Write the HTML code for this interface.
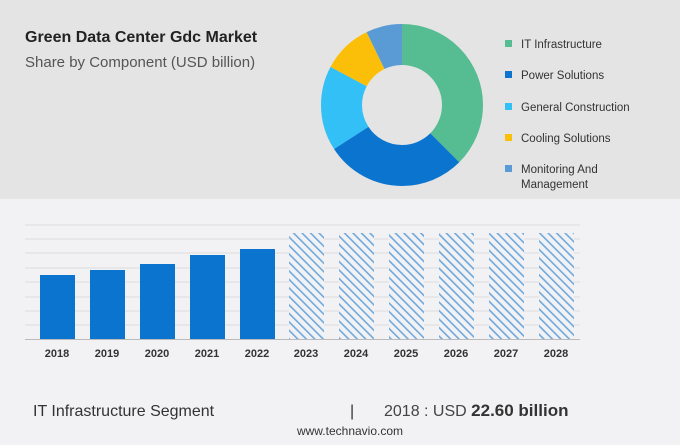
<!DOCTYPE html>
<html><head><meta charset="utf-8"><style>
body{margin:0;width:680px;height:440px;overflow:hidden;background:#f2f2f4;font-family:"Liberation Sans",sans-serif;}
</style></head><body>
<svg width="680" height="440" xmlns="http://www.w3.org/2000/svg" font-family="Liberation Sans, sans-serif">
<defs>
<pattern id="h" patternUnits="userSpaceOnUse" width="6" height="6" patternTransform="rotate(-45)">
<rect width="6" height="6" fill="#f2f2f4"/><rect x="0" y="0" width="1.6" height="6" fill="#6fa8dc"/>
</pattern>
</defs>
<rect x="0" y="0" width="680" height="199" fill="#e4e4e4"/>
<text x="25" y="42" font-size="16" font-weight="bold" fill="#222">Green Data Center Gdc Market</text>
<text x="25" y="67" font-size="15" fill="#555">Share by Component (USD billion)</text>
<g transform="rotate(-90 402 105)" fill="none" stroke-width="41">
<circle cx="402" cy="105" r="60.5" stroke="#55bd91" stroke-dasharray="142.5 400" stroke-dashoffset="0"/>
<circle cx="402" cy="105" r="60.5" stroke="#0b74cf" stroke-dasharray="107.7 400" stroke-dashoffset="-142.5"/>
<circle cx="402" cy="105" r="60.5" stroke="#32c0f7" stroke-dasharray="64.4 400" stroke-dashoffset="-250.2"/>
<circle cx="402" cy="105" r="60.5" stroke="#fbbf0a" stroke-dasharray="38 400" stroke-dashoffset="-314.6"/>
<circle cx="402" cy="105" r="60.5" stroke="#5a9bd6" stroke-dasharray="27.6 400" stroke-dashoffset="-352.6"/>
</g>
<g font-size="11.5" fill="#333">
<rect x="505" y="40" width="7" height="7" fill="#55bd91"/><text x="521" y="48">IT Infrastructure</text>
<rect x="505" y="71" width="7" height="7" fill="#0b74cf"/><text x="521" y="79">Power Solutions</text>
<rect x="505" y="103" width="7" height="7" fill="#32c0f7"/><text x="521" y="111">General Construction</text>
<rect x="505" y="134" width="7" height="7" fill="#fbbf0a"/><text x="521" y="142">Cooling Solutions</text>
<rect x="505" y="165" width="7" height="7" fill="#5a9bd6"/><text x="521" y="173">Monitoring And</text><text x="521" y="188">Management</text>
</g>
<g stroke="#dcdce0" stroke-width="1">
<line x1="25" x2="580" y1="225" y2="225"/><line x1="25" x2="580" y1="239" y2="239"/>
<line x1="25" x2="580" y1="253" y2="253"/><line x1="25" x2="580" y1="268" y2="268"/>
<line x1="25" x2="580" y1="282" y2="282"/><line x1="25" x2="580" y1="297" y2="297"/>
<line x1="25" x2="580" y1="311" y2="311"/><line x1="25" x2="580" y1="325" y2="325"/>
</g>
<line x1="25" x2="580" y1="339.5" y2="339.5" stroke="#bbb"/>
<g fill="#0b74cf">
<rect x="40" y="275" width="35" height="64"/>
<rect x="90" y="270" width="35" height="69"/>
<rect x="140" y="264" width="35" height="75"/>
<rect x="190" y="255" width="35" height="84"/>
<rect x="240" y="249" width="35" height="90"/>
</g>
<g fill="url(#h)">
<rect x="289" y="233" width="35" height="106"/><rect x="339" y="233" width="35" height="106"/>
<rect x="389" y="233" width="35" height="106"/><rect x="439" y="233" width="35" height="106"/>
<rect x="489" y="233" width="35" height="106"/><rect x="539" y="233" width="35" height="106"/>
</g>
<g font-size="11" font-weight="bold" fill="#333" text-anchor="middle">
<text x="57" y="357">2018</text><text x="107" y="357">2019</text><text x="157" y="357">2020</text>
<text x="207" y="357">2021</text><text x="257" y="357">2022</text><text x="306" y="357">2023</text>
<text x="356" y="357">2024</text><text x="406" y="357">2025</text><text x="456" y="357">2026</text>
<text x="506" y="357">2027</text><text x="556" y="357">2028</text>
</g>
<text x="33" y="416" font-size="16" fill="#333">IT Infrastructure Segment</text>
<text x="350" y="416" font-size="16" fill="#333">|</text>
<text x="384" y="416" font-size="16" fill="#444">2018 : USD <tspan font-weight="bold" font-size="17" fill="#333">22.60 billion</tspan></text>
<text x="350" y="435" font-size="12" fill="#333" text-anchor="middle">www.technavio.com</text>
</svg>
</body></html>
